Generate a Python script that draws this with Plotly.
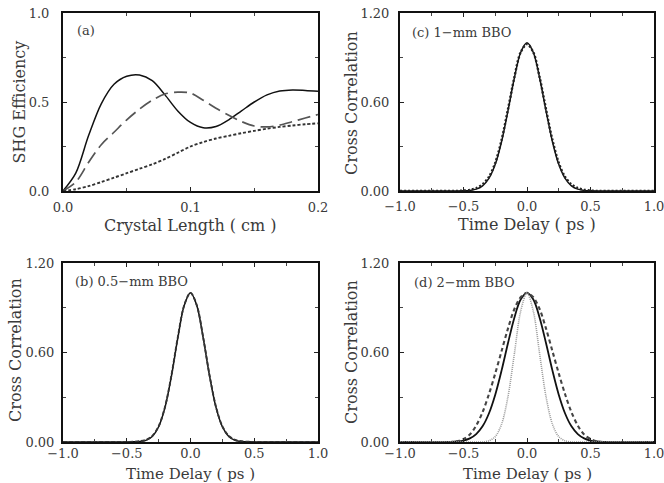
import plotly.graph_objects as go

# ---------------- data ----------------
# panel (a): SHG efficiency vs crystal length
L_cm = [0, 0.01, 0.02, 0.03, 0.04, 0.05, 0.06, 0.07, 0.08, 0.09, 0.10,
        0.11, 0.12, 0.13, 0.14, 0.15, 0.16, 0.17, 0.18, 0.19, 0.20]
shg_solid = [0, 0.10, 0.31, 0.49, 0.60, 0.645, 0.652, 0.62, 0.54, 0.45, 0.385,
             0.355, 0.362, 0.40, 0.45, 0.50, 0.54, 0.562, 0.568, 0.565, 0.56]
shg_dashed = [0, 0.05, 0.16, 0.26, 0.33, 0.40, 0.46, 0.51, 0.545, 0.555, 0.55,
              0.51, 0.465, 0.425, 0.39, 0.365, 0.36, 0.37, 0.39, 0.41, 0.43]
shg_dotted = [0, 0.01, 0.027, 0.05, 0.075, 0.10, 0.125, 0.15, 0.18, 0.215, 0.25,
              0.275, 0.295, 0.31, 0.325, 0.338, 0.35, 0.36, 0.368, 0.375, 0.38]

# panels (b)-(d): cross correlation vs time delay (ps)
delay_ps = [-1.0, -0.6, -0.55, -0.5, -0.45, -0.4, -0.35, -0.3, -0.25, -0.2, -0.15, -0.1, -0.05,
            0.0, 0.05, 0.1, 0.15, 0.2, 0.25, 0.3, 0.35, 0.4, 0.45, 0.5, 0.55, 0.6, 1.0]

b_solid = [0, 0, 0, 0, 0.001, 0.003, 0.011, 0.037, 0.102, 0.232, 0.44, 0.694, 0.913,
           1.0, 0.913, 0.694, 0.44, 0.232, 0.102, 0.037, 0.011, 0.003, 0.001, 0, 0, 0, 0]
b_dashed = [0, 0, 0, 0, 0.002, 0.005, 0.014, 0.04, 0.105, 0.235, 0.445, 0.70, 0.915,
            1.0, 0.915, 0.70, 0.445, 0.235, 0.105, 0.04, 0.014, 0.005, 0.002, 0, 0, 0, 0]

c_solid = [0, 0, 0, 0.001, 0.004, 0.0125, 0.035, 0.085, 0.18, 0.334, 0.54, 0.76, 0.934,
           1.0, 0.934, 0.76, 0.54, 0.334, 0.18, 0.085, 0.035, 0.0125, 0.004, 0.001, 0, 0, 0]
c_dotted = [0, 0, 0, 0.003, 0.008, 0.02, 0.045, 0.095, 0.19, 0.345, 0.55, 0.765, 0.935,
            0.99, 0.935, 0.765, 0.55, 0.345, 0.19, 0.095, 0.045, 0.02, 0.008, 0.003, 0, 0, 0]

d_solid = [0, 0.001, 0.004, 0.01, 0.024, 0.053, 0.105, 0.191, 0.317, 0.48, 0.662, 0.832, 0.955,
           1.0, 0.955, 0.832, 0.662, 0.48, 0.317, 0.191, 0.105, 0.053, 0.024, 0.01, 0.004, 0.001, 0]
d_dashed = [0, 0, 0.005, 0.02, 0.05, 0.11, 0.20, 0.32, 0.46, 0.61, 0.76, 0.89, 0.97,
            1.0, 0.97, 0.89, 0.76, 0.61, 0.46, 0.32, 0.20, 0.11, 0.05, 0.02, 0.005, 0, 0]
d_dotted = [0, 0, 0, 0, 0, 0, 0, 0.008, 0.036, 0.12, 0.303, 0.588, 0.876,
            1.0, 0.876, 0.588, 0.303, 0.12, 0.036, 0.008, 0, 0, 0, 0, 0, 0, 0]

a_xticks = [0.0, 0.1, 0.2]
a_xticklabels = ["0.0", "0.1", "0.2"]
a_yticks = [0.0, 0.5, 1.0]
a_yticklabels = ["0.0", "0.5", "1.0"]
t_xticks = [-1.0, -0.5, 0.0, 0.5, 1.0]
t_xticklabels = ["\u22121.0", "\u22120.5", "0.0", "0.5", "1.0"]
t_yticks = [0.0, 0.6, 1.2]
t_yticklabels = ["0.00", "0.60", "1.20"]

FONT = "DejaVu Serif"
TXT = "#3a3a3a"

fig = go.Figure()

def add(x, y, xa, ya, color, width, dash):
    fig.add_trace(go.Scatter(x=x, y=y, xaxis=xa, yaxis=ya, mode="lines",
                             line=dict(color=color, width=width, dash=dash,
                                       shape="spline", smoothing=0.9),
                             showlegend=False, hoverinfo="skip"))

# (a)
add(L_cm, shg_solid, "x", "y", "#111", 1.5, "solid")
add(L_cm, shg_dashed, "x", "y", "#555", 1.7, "13px,6px")
add(L_cm, shg_dotted, "x", "y", "#333", 1.9, "3px,2px")
# (c)
add(delay_ps, c_solid, "x2", "y2", "#111", 1.5, "solid")
add(delay_ps, c_dotted, "x2", "y2", "#222", 2.4, "2px,2px")
# (b)
add(delay_ps, b_solid, "x3", "y3", "#111", 1.5, "solid")
add(delay_ps, b_dashed, "x3", "y3", "#333", 1.9, "4px,2px")
# (d)
add(delay_ps, d_solid, "x4", "y4", "#111", 1.8, "solid")
add(delay_ps, d_dashed, "x4", "y4", "#444", 2.1, "4px,3px")
add(delay_ps, d_dotted, "x4", "y4", "#999", 1.6, "1px,1px")

xdomL = [63 / 664, 318 / 664]
xdomR = [400 / 664, 654 / 664]
ydomT = [1 - 191 / 483, 1 - 13 / 483]
ydomB = [1 - 442 / 483, 1 - 263 / 483]

def axis(domain, rng, tv, tt, minor_dtick, anchor, standoff):
    return dict(domain=domain, range=rng, tickvals=tv, ticktext=tt,
                automargin=False, ticklabeloverflow="allow",
                ticks="inside", ticklen=4, tickwidth=1, tickcolor="#222",
                ticklabelstandoff=standoff,
                showline=True, linewidth=2, linecolor="#111", mirror="ticks",
                showgrid=False, zeroline=False, anchor=anchor,
                minor=dict(ticks="inside", ticklen=3, tickwidth=1, tickcolor="#444",
                           dtick=minor_dtick, tick0=0, showgrid=False),
                tickfont=dict(family=FONT, size=13, color=TXT))

fig.update_layout(
    width=664, height=483,
    margin=dict(l=0, r=0, t=0, b=0),
    paper_bgcolor="white", plot_bgcolor="white",
    xaxis=axis(xdomL, [0, 0.2], a_xticks, a_xticklabels, 0.05, "y", 3),
    yaxis=axis(ydomT, [0, 1.0], a_yticks, a_yticklabels, 0.25, "x", 9),
    xaxis2=axis(xdomR, [-1, 1], t_xticks, t_xticklabels, 0.25, "y2", 2),
    yaxis2=axis(ydomT, [0, 1.2], t_yticks, t_yticklabels, 0.3, "x2", 6),
    xaxis3=axis(xdomL, [-1, 1], t_xticks, t_xticklabels, 0.25, "y3", -2),
    yaxis3=axis(ydomB, [0, 1.2], t_yticks, t_yticklabels, 0.3, "x3", 4),
    xaxis4=axis(xdomR, [-1, 1], t_xticks, t_xticklabels, 0.25, "y4", -2),
    yaxis4=axis(ydomB, [0, 1.2], t_yticks, t_yticklabels, 0.3, "x4", 6),
)

W, H = 664, 483
# axis titles as annotations in paper coordinates (pixel positions / canvas size)
x_titles = [("Crystal Length ( cm )", 190.5, 226, "middle", 16),
            ("Time Delay ( ps )", 527, 224, "middle", 16),
            ("Time Delay ( ps )", 190.5, 484, "bottom", 15),
            ("Time Delay ( ps )", 527, 484, "bottom", 15)]
for txt, px, py, ya, fs in x_titles:
    fig.add_annotation(text=txt, xref="paper", yref="paper", x=px / W, y=1 - py / H,
                       xanchor="center", yanchor=ya, showarrow=False, borderpad=0,
                       font=dict(family=FONT, size=fs, color=TXT))
y_titles = [("SHG Efficiency", 19.5, 102),
            ("Cross Correlation", 351, 103),
            ("Cross Correlation", 15, 350),
            ("Cross Correlation", 351, 352)]
for txt, px, py in y_titles:
    fig.add_annotation(text=txt, xref="paper", yref="paper", x=px / W, y=1 - py / H,
                       xanchor="center", yanchor="middle", textangle=-90,
                       showarrow=False, font=dict(family=FONT, size=16, color=TXT))

labels = [("(a)", "x domain", "y domain", 0.047, 0.90),
          ("(c) 1\u2212mm BBO", "x2 domain", "y2 domain", 0.04, 0.89),
          ("(b) 0.5\u2212mm BBO", "x3 domain", "y3 domain", 0.04, 0.894),
          ("(d) 2\u2212mm BBO", "x4 domain", "y4 domain", 0.047, 0.89)]
for txt, xr, yr, xx, yy in labels:
    fig.add_annotation(text=txt, xref=xr, yref=yr, x=xx, y=yy, xanchor="left",
                       yanchor="middle", showarrow=False,
                       font=dict(family=FONT, size=13, color=TXT))

fig.write_html("out.html")
